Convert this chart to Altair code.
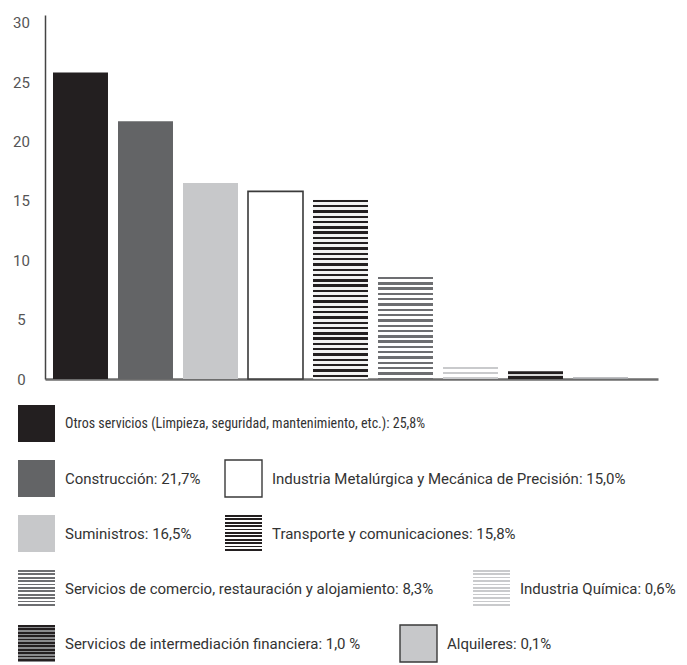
import altair as alt
import pandas as pd
import numpy as np

# ---- data ----
categories = [
    "Otros servicios", "Construcción", "Suministros", "Industria Metalúrgica",
    "Transporte", "Comercio", "Química", "Financiera", "Alquileres",
]
values = [25.8, 21.7, 16.5, 15.8, 15.1, 8.6, 1.05, 0.65, 0.15]
y_ticks = [0, 5, 10, 15, 20, 25, 30]

legend_keys = [
    "Otros servicios", "Construcción", "Industria Metalúrgica", "Suministros",
    "Transporte", "Comercio", "Química", "Financiera", "Alquileres",
]
legend_labels = [
    "Otros servicios (Limpieza, seguridad, mantenimiento, etc.): 25,8%",
    "Construcción: 21,7%",
    "Industria Metalúrgica y Mecánica de Precisión: 15,0%",
    "Suministros: 16,5%",
    "Transporte y comunicaciones: 15,8%",
    "Servicios de comercio, restauración y alojamiento: 8,3%",
    "Industria Química: 0,6%",
    "Servicios de intermediación financiera: 1,0 %",
    "Alquileres: 0,1%",
]
legend_row = [0, 1, 1, 2, 2, 3, 3, 4, 4]
legend_col_x = [18, 18, 225, 18, 225, 18, 473, 18, 400]

# ---- layout / style ----
W, H = 613, 364
YMAX = 30.65
PX = H / YMAX
NARROW = "Liberation Sans Narrow, Roboto Condensed, Roboto, sans-serif"


def stripes(color, bg, h_px, period=5.3, dark=2.4):
    stops = []
    h_px = max(h_px, 1.0)
    s = 0.0
    while s < h_px - 0.3:
        a = s / h_px
        b = min(s + dark, h_px) / h_px
        stops += [
            {"offset": a, "color": bg}, {"offset": a, "color": color},
            {"offset": b, "color": color}, {"offset": b, "color": bg},
        ]
        s += period
    stops.append({"offset": 1, "color": bg})
    return {"gradient": "linear", "x1": 0, "y1": 0, "x2": 0, "y2": 1, "stops": stops}


def bar_style(key, h_px):
    return {
        "Otros servicios": dict(fill="#231f20"),
        "Construcción": dict(fill="#636466"),
        "Suministros": dict(fill="#c7c8ca"),
        "Industria Metalúrgica": dict(fill="#ffffff", stroke="#3a3a3a", strokeWidth=1.6),
        "Transporte": dict(fill=stripes("#231f20", "#f2f2f2", h_px)),
        "Comercio": dict(fill=stripes("#6d6e71", "#ffffff", h_px)),
        "Química": dict(fill=stripes("#c9cacc", "#ffffff", h_px, dark=2.0)),
        "Financiera": dict(fill=stripes("#231f20", "#d8d8d8", h_px, period=5.0, dark=3.0)),
        "Alquileres": dict(fill="#a7a9ac"),
    }[key]


def legend_style(key):
    L = 37
    return {
        "Otros servicios": dict(fill="#231f20"),
        "Construcción": dict(fill="#636466"),
        "Suministros": dict(fill="#c7c8ca"),
        "Industria Metalúrgica": dict(fill="#ffffff", stroke="#3a3a3a", strokeWidth=1.4),
        "Transporte": dict(fill=stripes("#231f20", "#ffffff", L, period=3.4, dark=1.8)),
        "Comercio": dict(fill=stripes("#6d6e71", "#ffffff", L, period=3.4, dark=1.8)),
        "Química": dict(fill=stripes("#c9cacc", "#ffffff", L, period=3.4, dark=1.6)),
        "Financiera": dict(fill=stripes("#231f20", "#8a8b8d", L, period=3.4, dark=1.8)),
        "Alquileres": dict(fill="#c7c8ca", stroke="#3a3a3a", strokeWidth=1.4),
    }[key]


bar_df = pd.DataFrame({"key": categories, "value": values})

base = alt.Chart(bar_df).encode(
    x=alt.X(
        "key:N", sort=categories,
        scale=alt.Scale(domain=categories, paddingInner=0.154, paddingOuter=0.2923, align=0.2105),
        axis=alt.Axis(labels=False, ticks=False, title=None, domainColor="#6d6d6d", domainWidth=2.5),
    ),
    y=alt.Y(
        "value:Q",
        scale=alt.Scale(domain=[0, YMAX], nice=False, zero=True),
        axis=alt.Axis(
            values=y_ticks, title=None, ticks=False, tickSize=0, grid=False,
            labelAlign="center", labelPadding=24, labelFontSize=15, labelColor="#555555",
            labelFont="Roboto", domainColor="#444444", domainWidth=1.5,
        ),
    ),
)

bar_layers = []
for k, v in zip(categories, values):
    bar_layers.append(
        base.transform_filter(alt.datum.key == k).mark_bar(**bar_style(k, v * PX))
    )
bars = alt.layer(*bar_layers).properties(width=W, height=H)

leg_df = pd.DataFrame({
    "key": legend_keys, "label": legend_labels,
    "row": legend_row, "sx": legend_col_x,
})

lx = alt.Scale(domain=[45, 45 + W], nice=False, zero=False)
ly = alt.Scale(domain=[-0.5, 4.3], reverse=True, nice=False, zero=False)

lbase = alt.Chart(leg_df).transform_calculate(
    sx2="datum.sx + 37", y1="datum.row - 0.336", y2="datum.row + 0.336", tx="datum.sx + 47"
)
leg_layers = []
for k in legend_keys:
    leg_layers.append(
        lbase.transform_filter(alt.datum.key == k).mark_rect(**legend_style(k)).encode(
            x=alt.X("sx:Q", scale=lx, axis=None), x2="sx2:Q",
            y=alt.Y("y1:Q", scale=ly, axis=None), y2="y2:Q",
        )
    )
text_enc = dict(
    x=alt.X("tx:Q", scale=lx, axis=None),
    y=alt.Y("row:Q", scale=ly, axis=None),
    text="label:N",
)
# first legend line is set condensed in the original
leg_layers.append(
    lbase.transform_filter(alt.datum.row == 0)
    .mark_text(align="left", baseline="middle", font=NARROW, fontSize=14, color="#333333")
    .encode(**text_enc)
)
leg_layers.append(
    lbase.transform_filter(alt.datum.row != 0)
    .mark_text(align="left", baseline="middle", font="Roboto", fontSize=15, color="#333333")
    .encode(**text_enc)
)
legend = alt.layer(*leg_layers).properties(width=W, height=264)

chart = alt.vconcat(bars, legend, spacing=9).properties(
    padding={"left": 4, "top": 7, "right": 0, "bottom": 0}
).configure_view(stroke=None)

chart.save("out.html", embed_options={"renderer": "svg", "actions": False})
